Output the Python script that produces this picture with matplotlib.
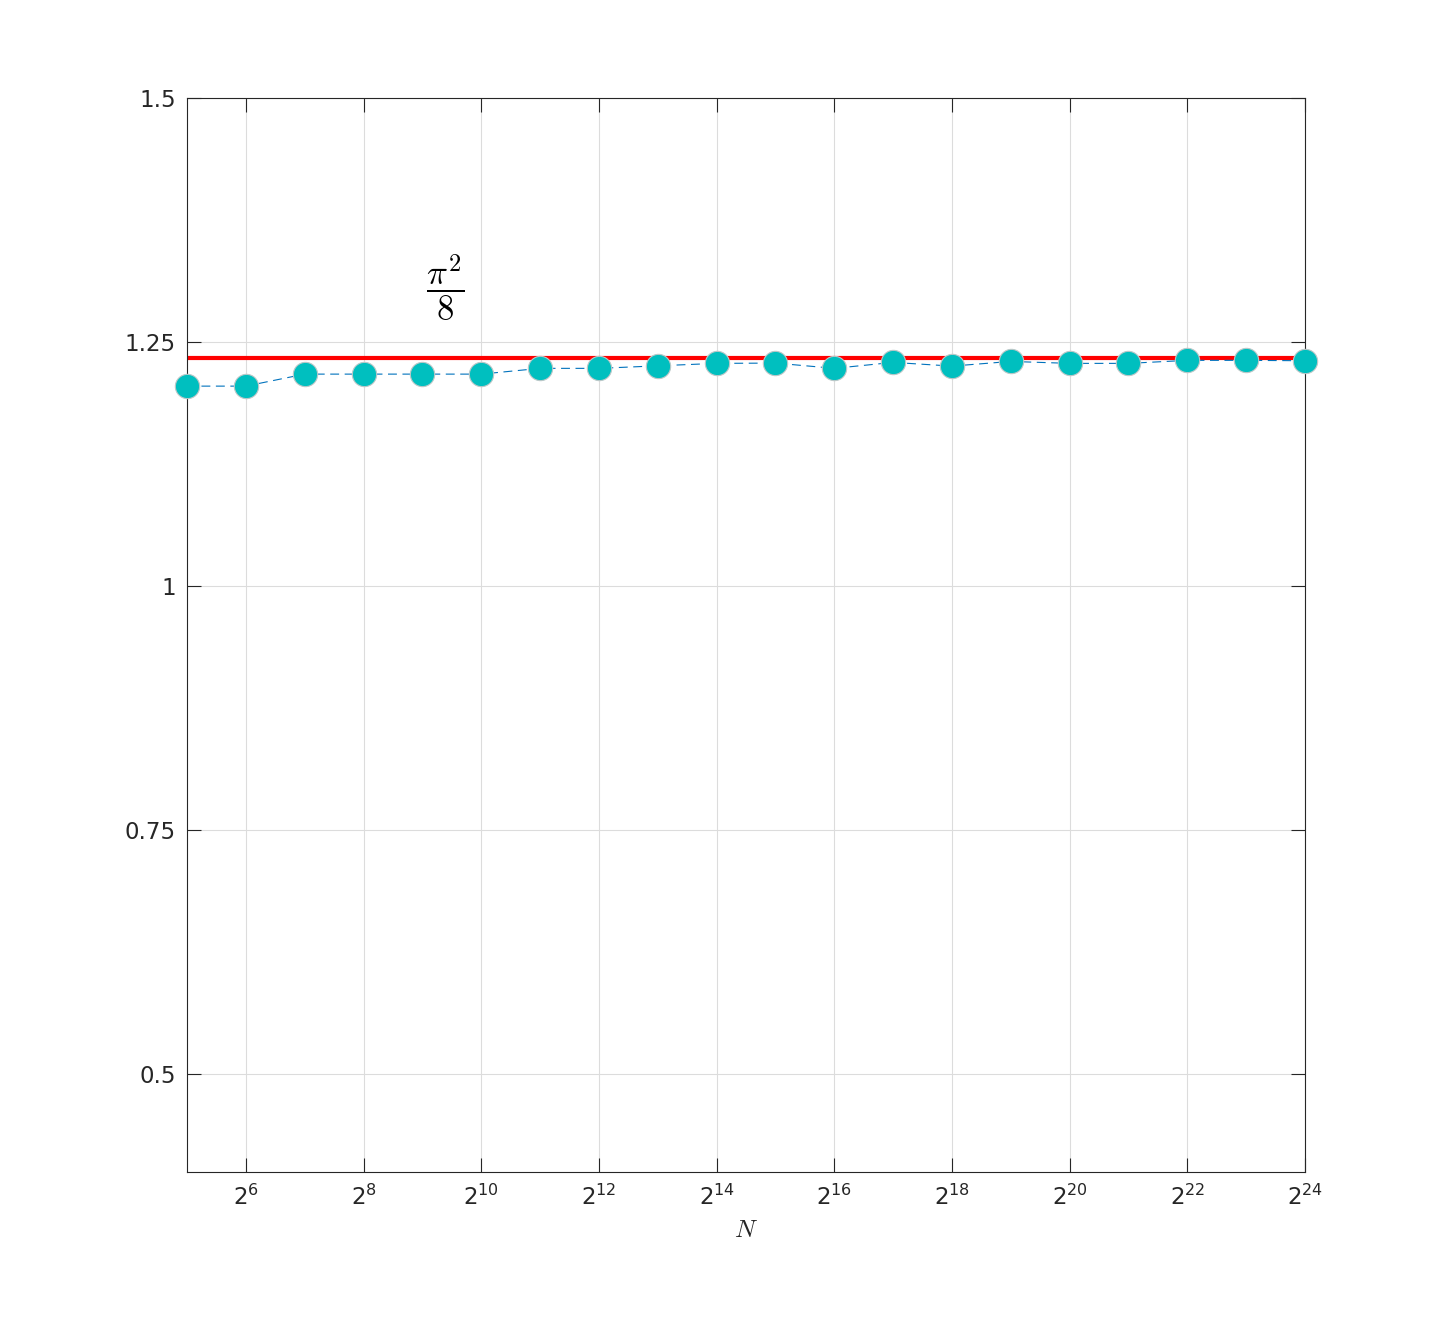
import numpy as np
import matplotlib
matplotlib.use("Agg")
import matplotlib.pyplot as plt

plt.rcParams["font.family"] = ["DejaVu Sans"]
plt.rcParams["mathtext.fontset"] = "dejavusans"

exponents = list(range(5, 25))
values = [1.2049, 1.2049, 1.2172, 1.2172, 1.2172, 1.2172, 1.2231, 1.2231,
          1.2257, 1.2282, 1.2285, 1.2231, 1.2292, 1.2254, 1.2302, 1.2282,
          1.2282, 1.2313, 1.2313, 1.2309]
xtick_exps = list(range(6, 25, 2))
yticks = [0.5, 0.75, 1.0, 1.25, 1.5]
ytick_labels = ["0.5", "0.75", "1", "1.25", "1.5"]
limit_value = np.pi ** 2 / 8

N = [2.0 ** e for e in exponents]

fig = plt.figure(figsize=(14.42, 13.17), dpi=100)
ax = fig.add_axes([187 / 1442, 1 - 1172 / 1317, (1305 - 187) / 1442, (1172 - 98) / 1317])

ax.set_xscale("log", base=2)
ax.set_xlim(2 ** 5, 2 ** 24)
ax.set_ylim(0.4, 1.5)

ax.axhline(limit_value, color="#ff0000", lw=3.0, zorder=2)
ax.plot(N, values, linestyle=(0, (8, 5)), color="#0072BD", lw=0.8,
        marker="o", markersize=17.5, markerfacecolor="#00BFBF",
        markeredgecolor="#bcc8c8", markeredgewidth=0.8, zorder=3, clip_on=False)

ax.set_xticks([2.0 ** e for e in xtick_exps])
ax.set_xticklabels([r"$\mathdefault{2^{%d}}$" % e for e in xtick_exps])
ax.minorticks_off()
ax.set_yticks(yticks)
ax.set_yticklabels(ytick_labels)

ax.tick_params(direction="in", length=10, width=0.8, top=True, right=True,
               labelsize=16.5, colors="#262626", pad=8)
ax.tick_params(axis="x", pad=9)
for s in ax.spines.values():
    s.set_color("#262626")
    s.set_linewidth(0.8)
ax.grid(True, color="#dcdcdc", lw=0.8)
ax.set_axisbelow(True)

ax.set_xlabel(r"$N$", fontsize=18, math_fontfamily="cm", color="#262626", labelpad=6)
ax.text(2 ** 9.385, 1.3055, r"$\dfrac{\pi^2}{8}$", fontsize=25, math_fontfamily="cm",
        ha="center", va="center", color="black")

fig.savefig("out.png", dpi=100, facecolor="white")
